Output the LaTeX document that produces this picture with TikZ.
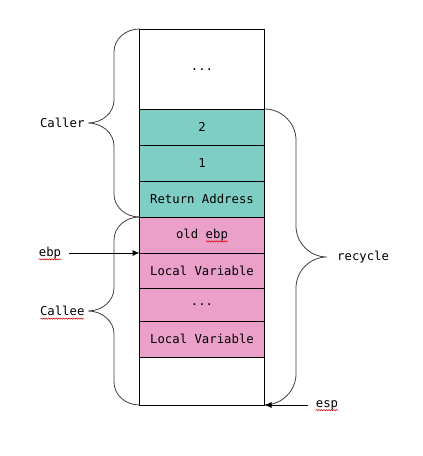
\documentclass[tikz,border=0pt]{standalone}
\usepackage{fontspec}
\setmonofont{DejaVu Sans Mono}
\usetikzlibrary{positioning,decorations.pathmorphing,arrows.meta}

\definecolor{argteal}{RGB}{126,206,197}
\definecolor{localpink}{RGB}{234,160,200}

\begin{document}
\begin{tikzpicture}[x=1pt,y=-1pt,>={Latex[length=7pt,width=6pt]},
  font=\ttfamily\fontsize{12.3}{14}\selectfont,
  cell/.style={draw,line width=1pt,minimum width=125pt,inner sep=0pt,outer sep=0pt},
  arg/.style={cell,fill=argteal,minimum height=36pt},
  local/.style={cell,fill=localpink,minimum height=36pt},
  tag/.style={inner xsep=8pt},
  curly/.style={draw=black!75,line width=0.8pt},
  ptr/.style={->,line width=0.8pt},
  typo/.style={draw=red!85!black,line width=0.5pt,decorate,
    decoration={snake,amplitude=0.7pt,segment length=2.5pt}}]
  \useasboundingbox (0,0) rectangle (423,456);
  % the stack
  \node[cell,minimum height=80pt] (top) at (202,69) {\raisebox{-3pt}{...}};
  \node[arg,below=0pt of top] (arg2) {2};
  \node[arg,below=0pt of arg2] (arg1) {1};
  \node[arg,below=0pt of arg1] (ret) {Return Address};
  \node[local,below=0pt of ret] (oldebp) {old ebp};
  \node[local,minimum height=35pt,below=0pt of oldebp] (var1) {Local Variable};
  \node[local,minimum height=33pt,below=0pt of var1] (dots) {...};
  \node[local,below=0pt of dots] (var2) {Local Variable};
  \node[cell,minimum height=48pt,below=0pt of var2] (free) {};
  % labels
  \node[anchor=east] (caller) at (88,123) {Caller};
  \node[anchor=east] (callee) at (88,311) {Callee};
  \node[anchor=west,inner xsep=10pt] (recycle) at (327,257) {recycle};
  \node[tag] (ebp) at (50,253) {ebp};
  \node[tag] (esp) at (327,405) {esp};
  % braces
  \draw[curly] (top.north west) .. controls +(-14,0) and +(0,-13) .. (114,52) -- (114,100)
    .. controls +(0,13) and +(14,0) .. (caller.east)
    .. controls +(14,0) and +(0,-13) .. (114,146) -- (114,194)
    .. controls +(0,13) and +(-14,0) .. (ret.south west);
  \draw[curly] (oldebp.north west) .. controls +(-14,0) and +(0,-13) .. (114,240) -- (114,288)
    .. controls +(0,13) and +(14,0) .. (callee.east)
    .. controls +(14,0) and +(0,-13) .. (114,334) -- (114,382)
    .. controls +(0,13) and +(-14,0) .. (free.south west);
  \draw[curly] (arg2.north east) .. controls +(17,0) and +(0,-17) .. (296,140) -- (296,226)
    .. controls +(0,17) and +(-17,0) .. (recycle.west)
    .. controls +(-17,0) and +(0,-17) .. (296,288) -- (296,374)
    .. controls +(0,17) and +(17,0) .. (free.south east);
  % pointers
  \draw[ptr] (ebp) -- (oldebp.south west);
  \draw[ptr] (esp) -- (free.south east);
  % spell-check waves
  \draw[typo] ([xshift=8pt,yshift=-3pt]ebp.base west) -- ([xshift=-8pt,yshift=-3pt]ebp.base east);
  \draw[typo] ([xshift=8pt,yshift=-3pt]esp.base west) -- ([xshift=-8pt,yshift=-3pt]esp.base east);
  \draw[typo] ([xshift=4pt,yshift=-3pt]callee.base west) -- ([xshift=-4pt,yshift=-3pt]callee.base east);
  \draw[typo] ([xshift=4pt,yshift=-3pt]oldebp.base) -- ([xshift=26pt,yshift=-3pt]oldebp.base);
\end{tikzpicture}
\end{document}
